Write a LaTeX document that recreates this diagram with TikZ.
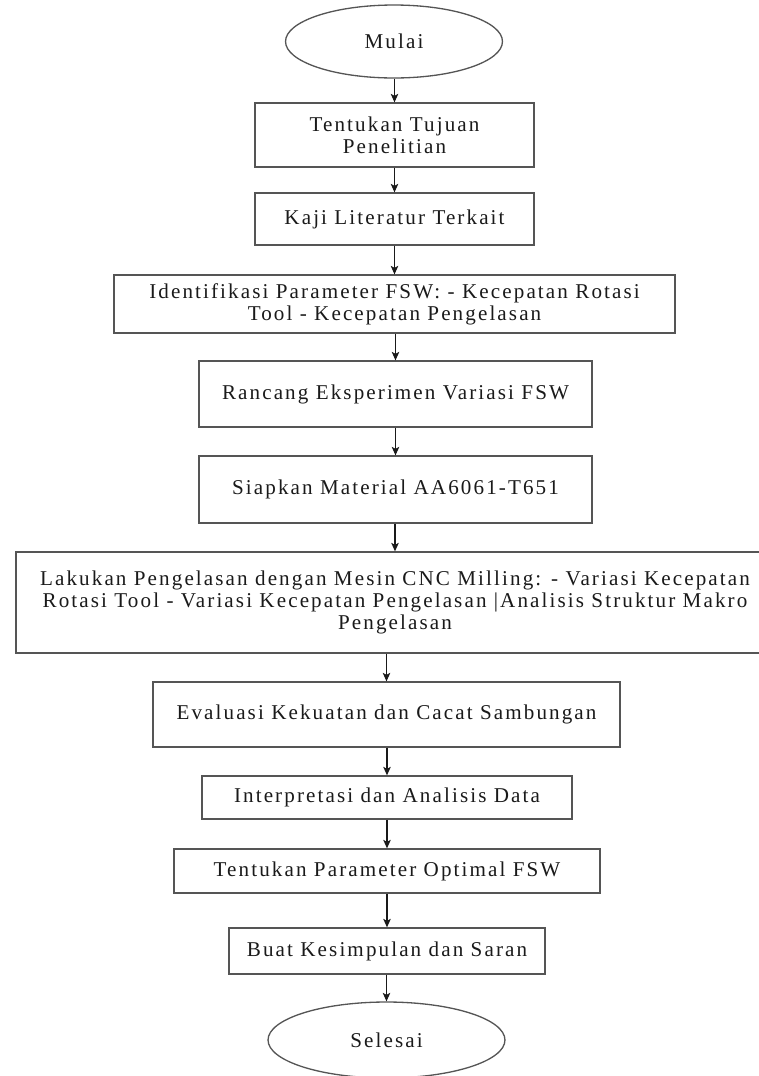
\documentclass[tikz,border=0pt]{standalone}
\usepackage{fontspec}
\newfontfamily\flowfont[LetterSpace=10]{Liberation Serif}
\usetikzlibrary{arrows.meta,shapes.geometric}
\definecolor{ink}{HTML}{1A1A1A}
\definecolor{frame}{HTML}{555555}
\newcommand{\flowsize}{\fontsize{12}{12.6}\selectfont}
\tikzset{
 every node/.append style={font=\flowfont\flowsize,text=ink,align=center},
 box/.style={draw=frame,fill=white,line width=.75pt,inner sep=2pt},
 terminal/.style={ellipse,draw=frame,fill=white,line width=.75pt,inner sep=0pt},
 flow/.style={-{Stealth[length=1.7mm,width=1.5mm,inset=.4mm]},draw=ink,line width=.65pt},
}

\begin{document}
\begin{tikzpicture}[x=.02cm,y=-.02cm]

\useasboundingbox (0,0) rectangle (758,1076);
\node[terminal,minimum width=4.34cm,minimum height=1.46cm] (mulai) at (394,41.5) {Mulai};
\node[box,minimum width=5.58cm,minimum height=1.28cm] (tujuan) at (394.5,135) {Tentukan Tujuan\\Penelitian};
\node[box,minimum width=5.58cm,minimum height=1.04cm] (kaji) at (394.5,219) {Kaji Literatur Terkait};
\node[box,minimum width=11.22cm,minimum height=1.16cm] (param) at (394.5,304) {Identifikasi Parameter FSW: - Kecepatan Rotasi\\Tool - Kecepatan Pengelasan};
\node[box,minimum width=7.86cm,minimum height=1.32cm] (rancang) at (395.5,394) {Rancang Eksperimen Variasi FSW};
\node[box,minimum width=7.86cm,minimum height=1.34cm] (material) at (395.5,489.5) {Siapkan Material AA6061-T651};
\node[box,minimum width=15.16cm,minimum height=2.02cm] (las) at (395,602.5) {Lakukan Pengelasan dengan Mesin CNC Milling: - Variasi Kecepatan\\Rotasi Tool - Variasi Kecepatan Pengelasan |Analisis Struktur Makro\\Pengelasan};
\node[box,minimum width=9.34cm,minimum height=1.3cm] (evaluasi) at (386.5,714.5) {Evaluasi Kekuatan dan Cacat Sambungan};
\node[box,minimum width=7.4cm,minimum height=.86cm] (analisis) at (387,797.5) {Interpretasi dan Analisis Data};
\node[box,minimum width=8.52cm,minimum height=.88cm] (optimal) at (387,871) {Tentukan Parameter Optimal FSW};
\node[box,minimum width=6.32cm,minimum height=.92cm] (simpulan) at (387,951) {Buat Kesimpulan dan Saran};
\node[terminal,minimum width=4.74cm,minimum height=1.52cm] (selesai) at (386.5,1040) {Selesai};

\draw[flow] (mulai.south -| tujuan) -- (tujuan.north);
\draw[flow] (tujuan.south) -- (kaji.north);
\draw[flow] (kaji.south) -- (param.north);
\draw[flow] (param.south -| rancang) -- (rancang.north);
\draw[flow] (rancang.south) -- (material.north);
\draw[flow] (material.south -| las) -- (las.north);
\draw[flow] (las.south -| evaluasi) -- (evaluasi.north);
\draw[flow] (evaluasi.south -| analisis) -- (analisis.north);
\draw[flow] (analisis.south) -- (optimal.north);
\draw[flow] (optimal.south) -- (simpulan.north);
\draw[flow] (simpulan.south -| selesai) -- (selesai.north);

\end{tikzpicture}
\end{document}
